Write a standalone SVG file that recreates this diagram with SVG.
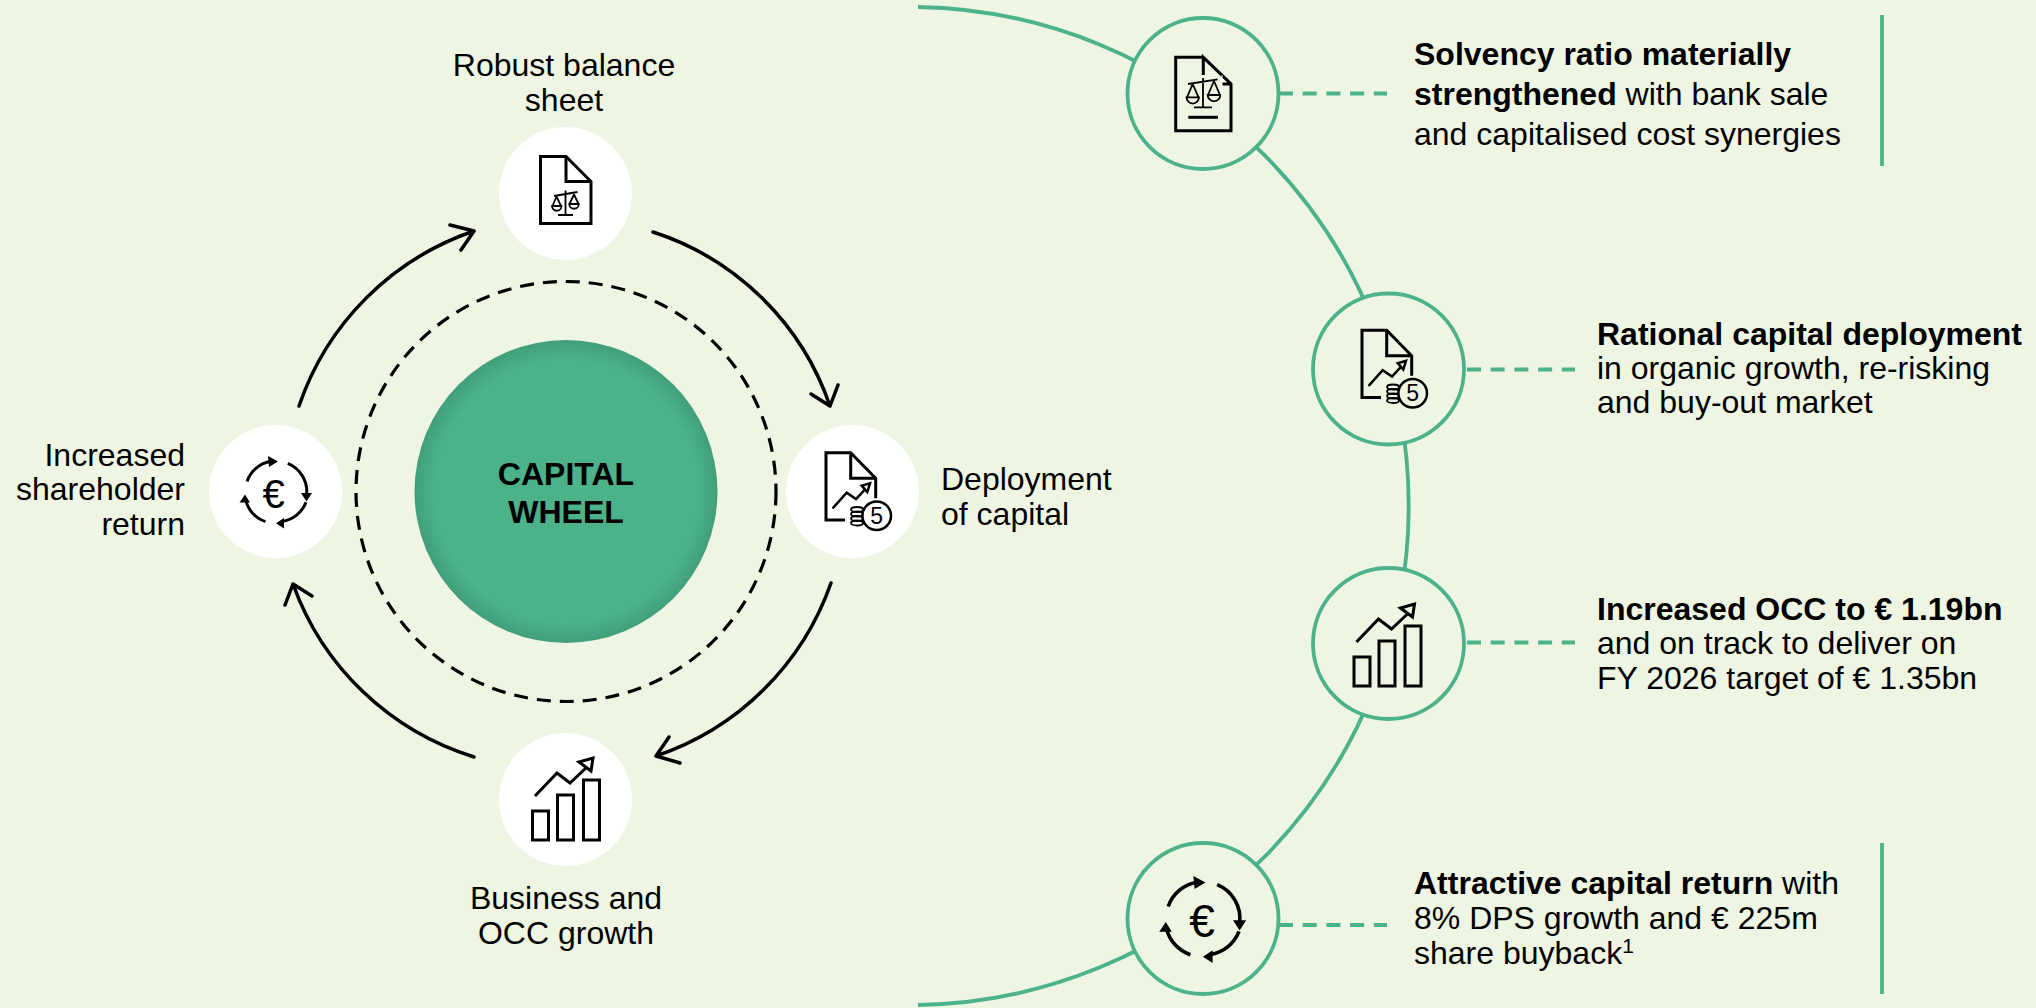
<svg xmlns="http://www.w3.org/2000/svg" width="2036" height="1008" viewBox="0 0 2036 1008">
<style>
text{font-family:"Liberation Sans",Arial,sans-serif;fill:#000;font-size:32px}
.b{font-weight:700}
.m{text-anchor:middle}
.e{text-anchor:end}
.wh{fill:#fff}
.ar{fill:none;stroke:#000;stroke-width:3.500;stroke-linecap:round;stroke-linejoin:round}
.gr{fill:none;stroke:#4bb28a;stroke-width:3.800}
.node{fill:#eef5e3;stroke:#4bb28a;stroke-width:3.800}
.dash{stroke:#4bb28a;stroke-width:3.800;stroke-dasharray:14 9.700;fill:none}
.ic{fill:none;stroke:#000;stroke-width:3}
.ic2{fill:none;stroke:#000;stroke-width:2.500;stroke-linecap:round}
.ict{fill:none;stroke:#000;stroke-width:1.800}
.tri{fill:#000}
</style>
<defs>
<radialGradient id="g" cx="50%" cy="50%" r="50%">
<stop offset="0.87" stop-color="#4bb28a"/>
<stop offset="1" stop-color="#419f7b"/>
</radialGradient>
<g id="doc">
<path class="ic" d="M-25-37H0.500L25.500-12V30H-25Z"/>
<path class="ic" d="M0.500-37V-12H25.500"/>
<g class="ict">
<path d="M-11.500 2.500 12-1.500M0-3V21.500M-7.500 21.500H7.500"/>
<path d="M-9 3-13 12.500M-9 3-4.500 12.500M-13.500 12.500H-4A4.750 4.750 0 0 1-13.500 12.500ZM8.500 1 4 10.500M8.500 1 13 10.500M3.750 10.500H13.250A4.750 4.750 0 0 1 3.750 10.500Z"/>
</g>
</g>
<g id="five">
<path class="ic" d="M-7.500 28.500H-26.500V-38.800H-1.800L23.200-13.200V6.800M-1.800-38.800V-13.200H23.200"/>
<path class="ic2" d="M-19.200 16.200-5.800 1.200 3.500 7.500 12.500-2.200"/>
<path class="ic2" stroke-linecap="butt" d="M9.200-5.800 17.500-8.200 14.800 0.500Z"/>
<g class="ict">
<ellipse cx="4.500" cy="18" rx="6" ry="2.500"/>
<ellipse cx="4.500" cy="22.500" rx="6" ry="2.500"/>
<ellipse cx="4.500" cy="27" rx="6" ry="2.500"/>
<ellipse cx="4.500" cy="31.500" rx="6" ry="2.500"/>
</g>
<circle cx="24.200" cy="24.200" r="14.300" fill="#fff" stroke="#000" stroke-width="2.500"/>
<text x="24.200" y="32" class="m" style="font-size:23px">5</text>
</g>
<g id="five2">
<path class="ic" d="M-7.500 28.500H-26.500V-38.800H-1.800L23.200-13.200V6.800M-1.800-38.800V-13.200H23.200"/>
<path class="ic2" d="M-19.200 16.200-5.800 1.200 3.500 7.500 12.500-2.200"/>
<path class="ic2" stroke-linecap="butt" d="M9.200-5.800 17.500-8.200 14.800 0.500Z"/>
<g class="ict">
<ellipse cx="4.500" cy="18" rx="6" ry="2.500"/>
<ellipse cx="4.500" cy="22.500" rx="6" ry="2.500"/>
<ellipse cx="4.500" cy="27" rx="6" ry="2.500"/>
<ellipse cx="4.500" cy="31.500" rx="6" ry="2.500"/>
</g>
<circle cx="24.200" cy="24.200" r="14.300" fill="#eef5e3" stroke="#000" stroke-width="2.500"/>
<text x="24.200" y="32" class="m" style="font-size:23px">5</text>
</g>
<g id="chart">
<path class="ic" d="M-33 40.500H-17V11.500H-33ZM-8 40.500H8V-4.500H-8ZM18 40.500H34V-19.500H18Z"/>
<path class="ic" d="M-30.500-3.500-8.500-26.500 4.500-16.500 21.500-32.500"/>
<path class="ic" d="M13.500-37.500 27.500-41.500 25.500-28.500Z"/>
</g>
<g id="cyc">
<path class="ic" d="M30 10.800A30.500 30.500 0 0 1 6 30M-10.500 30.200A30.500 30.500 0 0 1-30.500 8M-29-10A30.500 30.500 0 0 1-5-30.200M11.800-28.200A30.500 30.500 0 0 1 30.500 4"/>
<path class="tri" d="M2-30-8-35.500-7-24.500ZM30.500 10 25 1.500H36ZM0 31.800 8 26.500V37ZM-31 3-36.500 11H-26Z"/>
</g>
</defs>
<rect width="2036" height="1008" fill="#eef5e3"/>
<g id="connectors">
<path class="gr" d="M918 7A499.070 499.070 0 0 1 918 1005"/>
<circle cx="566" cy="491.500" r="210" fill="none" stroke="#000" stroke-width="3.200" stroke-dasharray="14 9"/>
<path class="ar" d="M653 232A277 277 0 0 1 830 406M811 394 830 406 838 385"/>
<path class="ar" d="M831 583A280 280 0 0 1 656 756M669 737 656 756 680 763"/>
<path class="ar" d="M474 757A280 280 0 0 1 293 584M312 596 293 584 285 605"/>
<path class="ar" d="M299 406A280 280 0 0 1 474 231M461 250 474 231 450 225"/>
<path class="dash" d="M1279 93.500H1387M1467 369.500H1575M1467 642.500H1575M1279 925H1387"/>
<path class="gr" d="M1882 15V166M1882 843V994"/>
</g>
<g id="hub"><circle cx="566" cy="491.500" r="151.500" fill="url(#g)"/>
<text x="566" y="485" class="b m">CAPITAL</text><text x="566" y="523" class="b m">WHEEL</text></g>
<g id="w-sheet"><circle class="wh" cx="565.500" cy="193.500" r="66.500"/><use href="#doc" x="565.500" y="193.500"/></g>
<g id="w-dep"><circle class="wh" cx="852.500" cy="491.500" r="66.500"/><use href="#five" x="852.500" y="491.500"/></g>
<g id="w-occ"><circle class="wh" cx="565.500" cy="799.500" r="66.500"/><use href="#chart" x="565.500" y="799.500"/></g>
<g id="w-ret"><circle class="wh" cx="275.500" cy="491.500" r="66.500"/><use href="#cyc" x="276" y="491.500"/><text x="273.500" y="508" class="m" style="font-size:40px">€</text></g>
<g id="lbl"><text x="564" y="76" class="m">Robust balance</text><text x="564" y="111" class="m">sheet</text>
<text x="941" y="490">Deployment</text><text x="941" y="525">of capital</text>
<text x="566" y="909" class="m">Business and</text><text x="566" y="944" class="m">OCC growth</text>
<text x="185" y="466" class="e">Increased</text><text x="185" y="500" class="e">shareholder</text><text x="185" y="535" class="e">return</text></g>
<g id="n1"><circle class="node" cx="1203" cy="93.500" r="75.500"/>
<path class="ic" stroke-width="3.500" d="M1203.300 57.300H1175.700V130.700H1231V84L1203.300 57.300V75M1222 84H1231"/>
<path class="ict" stroke-width="2.200" d="M1188 84 1217.700 79.300M1203 78V107.300M1194 107.300H1212M1192.700 84 1187 97.300M1192.700 84 1198.500 97.300M1186.500 97.300H1199A6.250 6.250 0 0 1 1186.500 97.300ZM1214 81 1208 95M1214 81 1220 95M1207.700 95H1220.300A6.300 6.300 0 0 1 1207.700 95Z"/>
<path d="M1188.300 117.300H1218" stroke="#000" stroke-width="3" fill="none"/>
<path d="M1222 75V113" stroke="#fff" stroke-width="1" fill="none"/>
<text x="1414" y="65" class="b">Solvency ratio materially</text><text x="1414" y="105"><tspan class="b">strengthened</tspan> with bank sale</text><text x="1414" y="145">and capitalised cost synergies</text></g>
<g id="n2"><circle class="node" cx="1388.500" cy="369" r="75.500"/><use href="#five2" x="1388.500" y="369"/>
<text x="1597" y="345" class="b">Rational capital deployment</text><text x="1597" y="379">in organic growth, re-risking</text><text x="1597" y="413">and buy-out market</text></g>
<g id="n3"><circle class="node" cx="1388.500" cy="643.500" r="75.500"/><use href="#chart" x="1387" y="645.500"/>
<text x="1597" y="620" class="b">Increased OCC to € 1.19bn</text><text x="1597" y="654">and on track to deliver on</text><text x="1597" y="689">FY 2026 target of € 1.35bn</text></g>
<g id="n4"><circle class="node" cx="1203" cy="918.500" r="75.500"/><use href="#cyc" transform="translate(1203 918.500) scale(1.200)"/><text x="1202" y="936.500" class="m" style="font-size:46px">€</text>
<text x="1414" y="894"><tspan class="b">Attractive capital return</tspan> with</text><text x="1414" y="929">8% DPS growth and € 225m</text><text x="1414" y="964">share buyback<tspan dy="-11" style="font-size:21px">1</tspan></text></g>
</svg>
